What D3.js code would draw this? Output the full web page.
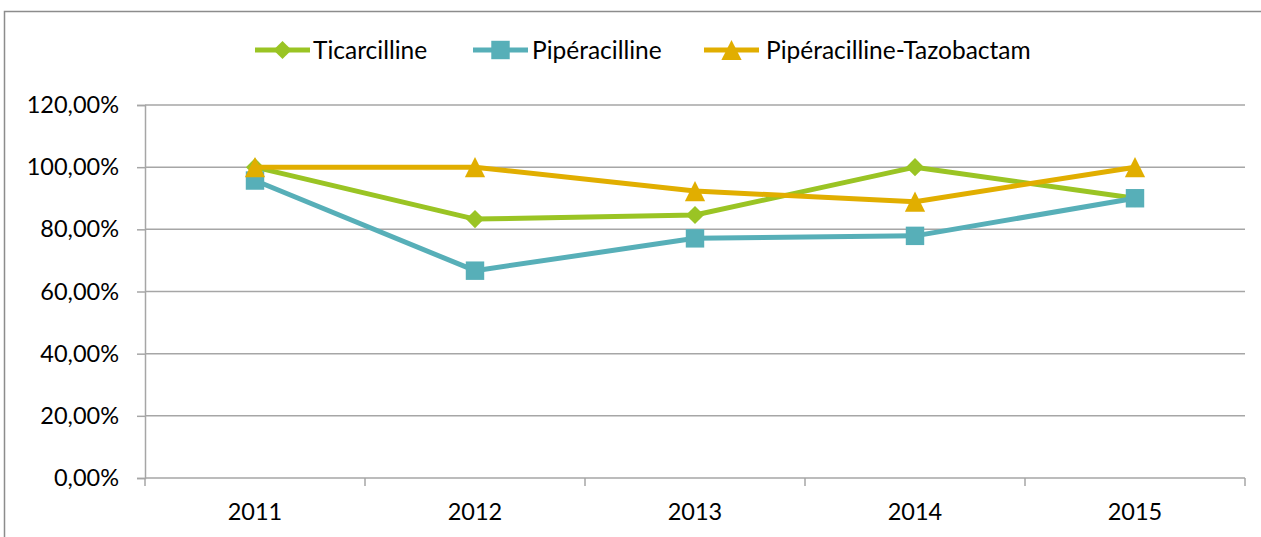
<!DOCTYPE html>
<html>
<head>
<meta charset="utf-8">
<script src="https://cdn.jsdelivr.net/npm/d3@7"></script>
<style>
  html, body { margin: 0; padding: 0; background: #fff; }
  svg { display: block; }
  text { font-family: Lato, "Open Sans", sans-serif; fill: #000; }
</style>
</head>
<body>
<svg id="chart" width="1261" height="537"></svg>
<script>
// Years on the category axis
const years = ["2011", "2012", "2013", "2014", "2015"];

// Susceptibility rates (%) per antibiotic
const ticarcilline = [100, 83.3, 84.6, 100, 90];
const piperacilline = [95.7, 66.7, 77.1, 77.9, 90];
const piperacillineTazobactam = [100, 100, 92.3, 88.9, 100];

// Y-axis ticks
const yTicks = [0, 20, 40, 60, 80, 100, 120];

const seriesNames = ["Ticarcilline", "Pipéracilline", "Pipéracilline-Tazobactam"];
const seriesColors = ["#9AC424", "#57AFB8", "#E1AE00"];
const seriesMarkers = ["diamond", "square", "triangle"];
const seriesValues = [ticarcilline, piperacilline, piperacillineTazobactam];

const series = seriesNames.map((name, i) => ({
  name, color: seriesColors[i], marker: seriesMarkers[i], values: seriesValues[i]
}));

const svg = d3.select("#chart");
const W = 1261, H = 537;
const plot = { left: 145, right: 1245, top: 105, bottom: 478 };

// Outer chart frame (continues past the right and bottom edges)
svg.append("rect")
  .attr("x", 4.5).attr("y", 11.5)
  .attr("width", W + 20).attr("height", H + 20)
  .attr("fill", "#fff").attr("stroke", "#8c8c8c").attr("stroke-width", 1.5);

const x = d3.scaleBand().domain(years).range([plot.left, plot.right]).padding(0);
const y = d3.scaleLinear().domain([0, 120]).range([plot.bottom, plot.top]);

// Horizontal gridlines
svg.append("g")
  .selectAll("line")
  .data(yTicks.filter(d => d > 0))
  .join("line")
  .attr("x1", plot.left).attr("x2", plot.right)
  .attr("y1", d => y(d)).attr("y2", d => y(d))
  .attr("stroke", "#a6a6a6").attr("stroke-width", 1.5);

// Y axis
const yAxis = d3.axisLeft(y).tickValues(yTicks).tickSize(8).tickPadding(18)
  .tickFormat(d => d.toFixed(2).replace(".", ",") + "%");
const gy = svg.append("g").attr("transform", `translate(${plot.left},0)`).call(yAxis);
gy.select(".domain").attr("stroke", "#a6a6a6").attr("stroke-width", 1.5);
gy.selectAll(".tick line").attr("stroke", "#a6a6a6").attr("stroke-width", 1.5);
gy.selectAll(".tick text").attr("font-size", 23.5).attr("font-family", "Lato, sans-serif").attr("fill", "#000");

// X axis with boundary ticks between categories
const gx = svg.append("g").attr("transform", `translate(0,${plot.bottom})`);
gx.append("line")
  .attr("x1", plot.left).attr("x2", plot.right)
  .attr("stroke", "#a6a6a6").attr("stroke-width", 1.5);
const boundaries = years.map(d => x(d)).concat([plot.right]);
gx.selectAll("line.bt")
  .data(boundaries)
  .join("line").attr("class", "bt")
  .attr("x1", d => d).attr("x2", d => d)
  .attr("y1", 0).attr("y2", 8)
  .attr("stroke", "#a6a6a6").attr("stroke-width", 1.5);
gx.selectAll("text")
  .data(years)
  .join("text")
  .attr("x", d => x(d) + x.bandwidth() / 2)
  .attr("y", 34)
  .attr("dy", "0.35em")
  .attr("text-anchor", "middle")
  .attr("font-size", 23.5)
  .text(d => d);

// Triangle whose bounding box is centred on the point
const boxTriangle = {
  draw(ctx, size) {
    const w = Math.sqrt(size), h = w;
    ctx.moveTo(0, -h / 2);
    ctx.lineTo(w / 2, h / 2);
    ctx.lineTo(-w / 2, h / 2);
    ctx.closePath();
  }
};

// Marker symbol generators
const symbolFor = {
  diamond: d3.symbol().type(d3.symbolDiamond2).size(210),
  square: d3.symbol().type(d3.symbolSquare).size(340),
  triangle: d3.symbol().type(boxTriangle).size(410)
};

function drawMarker(g, type, color, cx, cy) {
  g.append("path")
    .attr("d", symbolFor[type]())
    .attr("transform", `translate(${cx},${cy})`)
    .attr("fill", color);
}

const line = d3.line()
  .x((d, i) => x(years[i]) + x.bandwidth() / 2)
  .y(d => y(d));

// Series lines and markers
series.forEach(s => {
  const g = svg.append("g");
  g.append("path")
    .attr("d", line(s.values))
    .attr("fill", "none")
    .attr("stroke", s.color)
    .attr("stroke-width", 5)
    .attr("stroke-linejoin", "round");
  s.values.forEach((v, i) => {
    drawMarker(g, s.marker, s.color, x(years[i]) + x.bandwidth() / 2, y(v));
  });
});

// Legend
const legendItems = [
  { lineX: 255, textX: 313 },
  { lineX: 473, textX: 532 },
  { lineX: 704, textX: 766 }
];
const legendY = 50;
series.forEach((s, i) => {
  const li = legendItems[i];
  const g = svg.append("g");
  g.append("line")
    .attr("x1", li.lineX).attr("x2", li.lineX + 55)
    .attr("y1", legendY).attr("y2", legendY)
    .attr("stroke", s.color).attr("stroke-width", 5);
  drawMarker(g, s.marker, s.color, li.lineX + 27.5, legendY);
  g.append("text")
    .attr("x", li.textX).attr("y", legendY)
    .attr("dy", "0.35em")
    .attr("font-size", 24.5)
    .text(s.name);
});
</script>
</body>
</html>
